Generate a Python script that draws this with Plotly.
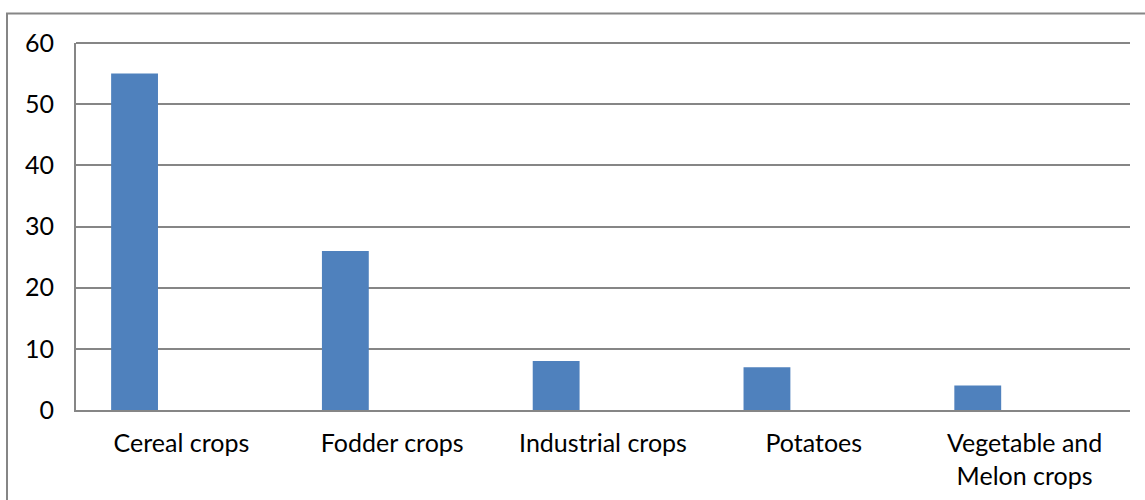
import plotly.graph_objects as go

# Share of sown area by crop group
categories = ["Cereal crops", "Fodder crops", "Industrial crops", "Potatoes", "Vegetable and<br>Melon crops"]
values = [55, 26, 8, 7, 4]
y_ticks = [0, 10, 20, 30, 40, 50, 60]

BAR_COLOR = "#4F81BD"
GRID_COLOR = "#868686"
FONT = "Lato"

fig = go.Figure()
fig.add_trace(go.Bar(
    x=list(range(len(categories))),
    y=values,
    width=1 / 4.5,
    offset=-1.5 / 4.5,
    marker=dict(color=BAR_COLOR, line=dict(width=0)),
    hoverinfo="skip",
))

fig.update_layout(
    width=1145,
    height=500,
    margin=dict(l=76, r=15, t=43, b=90),
    paper_bgcolor="white",
    plot_bgcolor="white",
    showlegend=False,
    font=dict(family=FONT, size=25, color="#000000"),
    xaxis=dict(
        tickmode="array",
        tickvals=list(range(len(categories))),
        ticktext=categories,
        range=[-0.5, len(categories) - 0.5],
        showgrid=False,
        zeroline=False,
        showline=True,
        linecolor=GRID_COLOR,
        linewidth=2,
        ticks="",
        ticklabelstandoff=10,
        tickangle=0,
        automargin=False,
    ),
    yaxis=dict(
        range=[0, 60],
        tickmode="array",
        tickvals=y_ticks,
        showgrid=True,
        gridcolor=GRID_COLOR,
        gridwidth=2,
        zeroline=False,
        showline=True,
        linecolor=GRID_COLOR,
        linewidth=2,
        ticks="",
        ticklabelstandoff=15,
        automargin=False,
    ),
    shapes=[
        # top border line of the gridded area
        dict(type="line", xref="paper", yref="paper", x0=0, x1=1, y0=1, y1=1,
             line=dict(color=GRID_COLOR, width=2), layer="above"),
        # outer chart frame
        dict(type="rect", xref="paper", yref="paper",
             x0=(7 - 76) / 1054, x1=(1152 - 76) / 1054,
             y0=(410 - 515) / 367, y1=(410 - 13.5) / 367,
             line=dict(color=GRID_COLOR, width=2), fillcolor="rgba(0,0,0,0)",
             layer="below"),
    ],
)

fig.write_html("out.html")
